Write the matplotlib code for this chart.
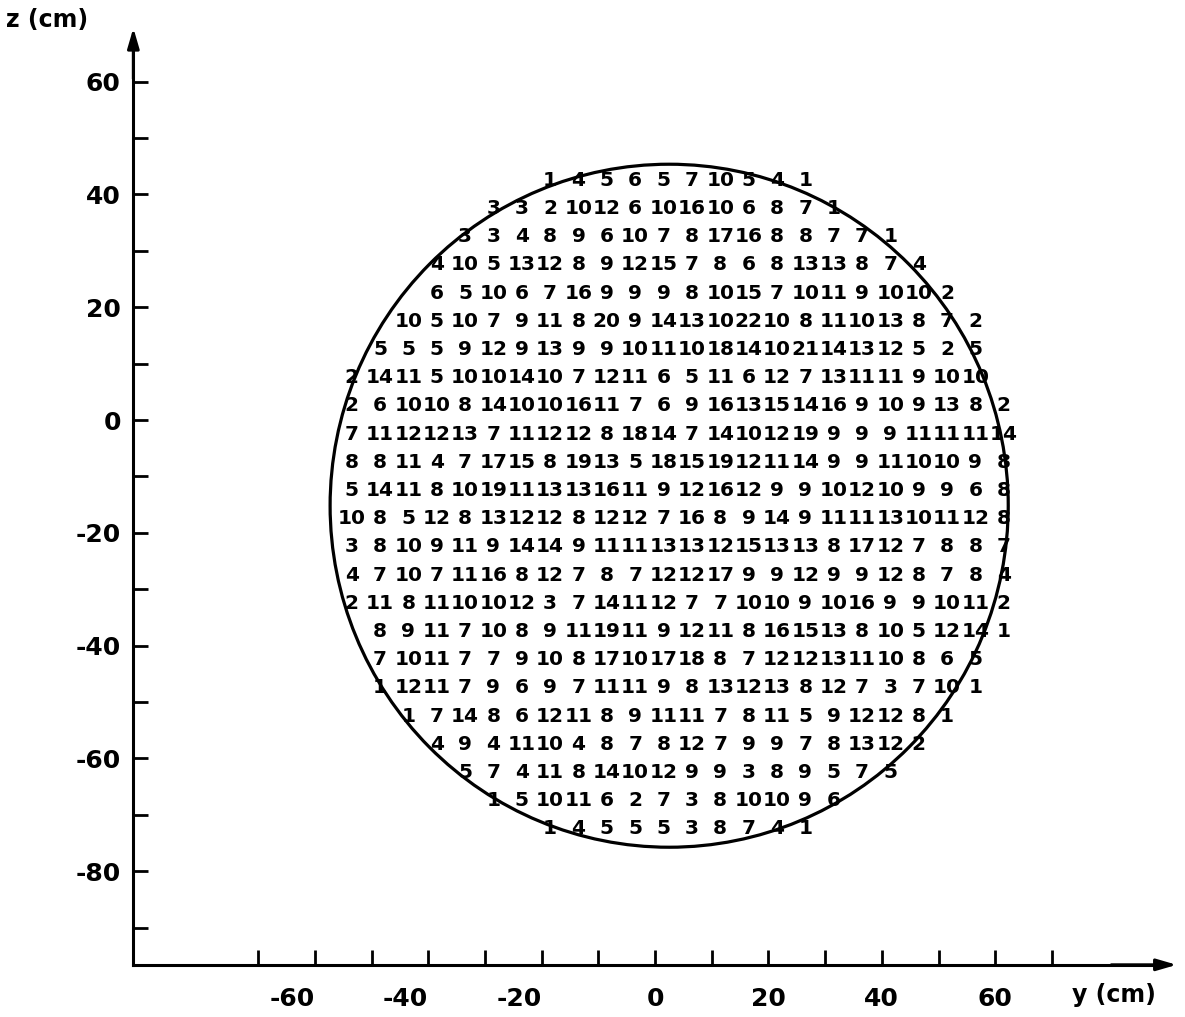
import numpy as np
import matplotlib.pyplot as plt
from matplotlib.patches import Ellipse

# grid of counts, one list per row (row height z in cm), 5 cm steps
z_42 = [1, 4, 5, 6, 5, 7, 10, 5, 4, 1]
z_37 = [3, 3, 2, 10, 12, 6, 10, 16, 10, 6, 8, 7, 1]
z_32 = [3, 3, 4, 8, 9, 6, 10, 7, 8, 17, 16, 8, 8, 7, 7, 1]
z_27 = [4, 10, 5, 13, 12, 8, 9, 12, 15, 7, 8, 6, 8, 13, 13, 8, 7, 4]
z_22 = [6, 5, 10, 6, 7, 16, 9, 9, 9, 8, 10, 15, 7, 10, 11, 9, 10, 10, 2]
z_17 = [10, 5, 10, 7, 9, 11, 8, 20, 9, 14, 13, 10, 22, 10, 8, 11, 10, 13, 8, 7, 2]
z_12 = [5, 5, 5, 9, 12, 9, 13, 9, 9, 10, 11, 10, 18, 14, 10, 21, 14, 13, 12, 5, 2, 5]
z_7 = [2, 14, 11, 5, 10, 10, 14, 10, 7, 12, 11, 6, 5, 11, 6, 12, 7, 13, 11, 11, 9, 10, 10]
z_2 = [2, 6, 10, 10, 8, 14, 10, 10, 16, 11, 7, 6, 9, 16, 13, 15, 14, 16, 9, 10, 9, 13, 8, 2]
z_m2 = [7, 11, 12, 12, 13, 7, 11, 12, 12, 8, 18, 14, 7, 14, 10, 12, 19, 9, 9, 9, 11, 11, 11, 14]
z_m7 = [8, 8, 11, 4, 7, 17, 15, 8, 19, 13, 5, 18, 15, 19, 12, 11, 14, 9, 9, 11, 10, 10, 9, 8]
z_m12 = [5, 14, 11, 8, 10, 19, 11, 13, 13, 16, 11, 9, 12, 16, 12, 9, 9, 10, 12, 10, 9, 9, 6, 8]
z_m17 = [10, 8, 5, 12, 8, 13, 12, 12, 8, 12, 12, 7, 16, 8, 9, 14, 9, 11, 11, 13, 10, 11, 12, 8]
z_m22 = [3, 8, 10, 9, 11, 9, 14, 14, 9, 11, 11, 13, 13, 12, 15, 13, 13, 8, 17, 12, 7, 8, 8, 7]
z_m27 = [4, 7, 10, 7, 11, 16, 8, 12, 7, 8, 7, 12, 12, 17, 9, 9, 12, 9, 9, 12, 8, 7, 8, 4]
z_m32 = [2, 11, 8, 11, 10, 10, 12, 3, 7, 14, 11, 12, 7, 7, 10, 10, 9, 10, 16, 9, 9, 10, 11, 2]
z_m37 = [8, 9, 11, 7, 10, 8, 9, 11, 19, 11, 9, 12, 11, 8, 16, 15, 13, 8, 10, 5, 12, 14, 1]
z_m42 = [7, 10, 11, 7, 7, 9, 10, 8, 17, 10, 17, 18, 8, 7, 12, 12, 13, 11, 10, 8, 6, 5]
z_m47 = [1, 12, 11, 7, 9, 6, 9, 7, 11, 11, 9, 8, 13, 12, 13, 8, 12, 7, 3, 7, 10, 1]
z_m52 = [1, 7, 14, 8, 6, 12, 11, 8, 9, 11, 11, 7, 8, 11, 5, 9, 12, 12, 8, 1]
z_m57 = [4, 9, 4, 11, 10, 4, 8, 7, 8, 12, 7, 9, 9, 7, 8, 13, 12, 2]
z_m62 = [5, 7, 4, 11, 8, 14, 10, 12, 9, 9, 3, 8, 9, 5, 7, 5]
z_m67 = [1, 5, 10, 11, 6, 2, 7, 3, 8, 10, 10, 9, 6]
z_m72 = [1, 4, 5, 5, 5, 3, 8, 7, 4, 1]

rows = [z_42, z_37, z_32, z_27, z_22, z_17, z_12, z_7, z_2, z_m2, z_m7, z_m12,
        z_m17, z_m22, z_m27, z_m32, z_m37, z_m42, z_m47, z_m52, z_m57, z_m62,
        z_m67, z_m72]
# first grid column of every row
first_col = [7, 5, 4, 3, 3, 2, 1, 0, 0, 0, 0, 0, 0, 0, 0, 0, 1, 1, 1, 2, 3, 4, 5, 7]

row_z = 42.5 - 5 * np.arange(len(rows))
col_y = -53.5 + 5 * np.arange(24)

# counter outline
circle_center = (2.5, -15.2)
circle_w, circle_h = 119.6, 121.1

fig = plt.figure(figsize=(11.85, 10.17), dpi=100)
ax = fig.add_axes([0, 0, 1, 1])
ax.set_xlim(-655 / 5.67, 530 / 5.67)
ax.set_ylim(-597 / 5.64, 420 / 5.64)

x0, y0 = -92.0, -96.6
ax.spines["top"].set_visible(False)
ax.spines["right"].set_visible(False)
ax.spines["left"].set_position(("data", x0))
ax.spines["bottom"].set_position(("data", y0))
ax.spines["left"].set_bounds(y0, 66)
ax.spines["bottom"].set_bounds(x0, 90)
ax.spines["left"].set_linewidth(2.2)
ax.spines["bottom"].set_linewidth(2.2)

ax.annotate("", xy=(x0, 70), xytext=(x0, 60),
            arrowprops=dict(arrowstyle="-|>,head_length=1.2,head_width=0.35", color="black", lw=2.2))
ax.annotate("", xy=(92.5, y0), xytext=(80, y0),
            arrowprops=dict(arrowstyle="-|>,head_length=1.2,head_width=0.35", color="black", lw=2.2))

ax.set_xticks(np.arange(-60, 61, 20))
ax.set_xticks(np.arange(-70, 71, 10), minor=True)
ax.set_yticks(np.arange(-80, 61, 20))
ax.set_yticks(np.arange(-90, 61, 10), minor=True)
ax.set_xticklabels([str(v) for v in range(-60, 61, 20)])
ax.set_yticklabels([str(v) for v in range(-80, 61, 20)])
ax.tick_params(which="both", direction="in", length=11, width=2)
ax.tick_params(axis="x", pad=16, labelsize=18)
ax.tick_params(axis="y", pad=9, labelsize=18)
for lab in ax.get_xticklabels() + ax.get_yticklabels():
    lab.set_fontweight("bold")
for lab in ax.get_xticklabels():
    if lab.get_text().startswith("-"):
        lab.set_ha("right")

ax.text(-114.5, 71, "z (cm)", fontsize=17, fontweight="bold", va="center", ha="left")
ax.text(73.5, -102, "y (cm)", fontsize=17, fontweight="bold", va="center", ha="left")

ax.add_patch(Ellipse(circle_center, circle_w, circle_h, fill=False, lw=2.3, color="black"))

for z, start, vals in zip(row_z, first_col, rows):
    for i, v in enumerate(vals):
        ax.text(col_y[start + i], z, str(v), ha="center", va="center",
                fontsize=14.5, fontweight="heavy")

fig.savefig("out.png", dpi=100)
